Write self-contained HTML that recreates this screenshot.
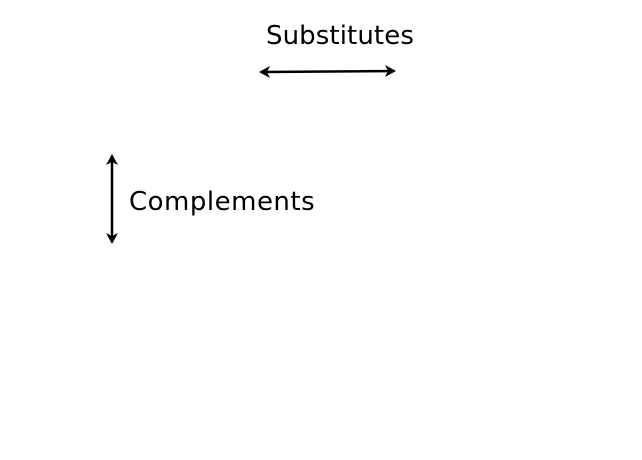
<!DOCTYPE html>
<html><head><style>
body{margin:0;width:642px;height:460px;background:#fff;overflow:hidden;position:relative}
.t{position:absolute;font-family:"DejaVu Sans","Liberation Sans",sans-serif;font-size:26px;color:#000;white-space:nowrap;line-height:1}
</style></head><body>
<div class="t" style="left:266px;top:23px;letter-spacing:0.1px">Substitutes</div>
<div class="t" style="left:129px;top:189px;letter-spacing:0.5px">Complements</div>
<svg width="642" height="460" style="position:absolute;left:0;top:0">
<g stroke="#000" stroke-width="2.5" fill="none">
<line x1="263" y1="72" x2="392" y2="71"/>
<line x1="112" y1="158" x2="112" y2="240"/>
</g>
<g fill="#000">
<polygon points="259,72 270,66 267,72 270,78"/>
<polygon points="396,71 385,65 388,71 385,77"/>
<polygon points="112,154 106,165 112,162 118,165"/>
<polygon points="112,244 106,233 112,236 118,233"/>
</g>
</svg>
</body></html>
